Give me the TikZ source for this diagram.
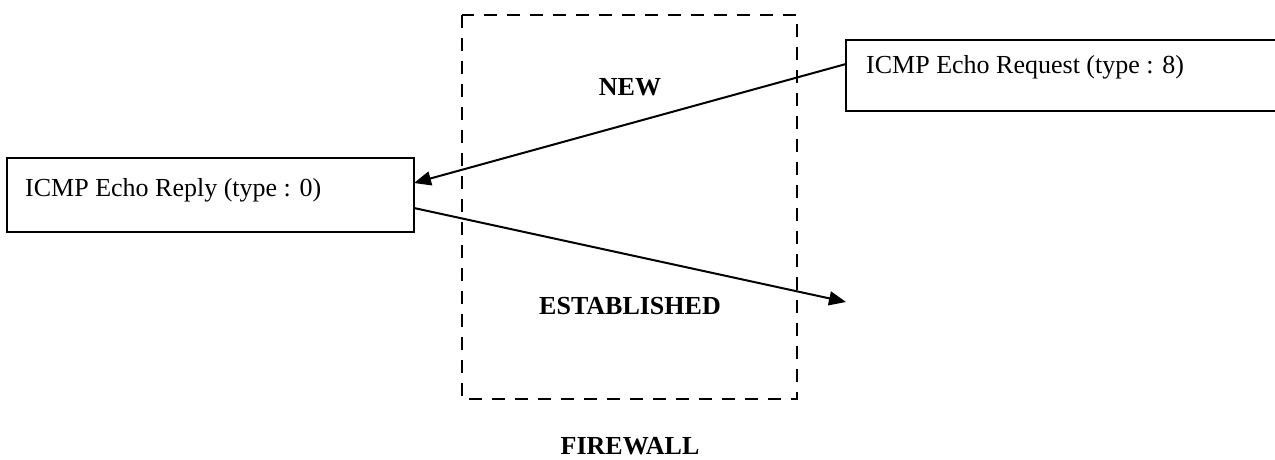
\documentclass[tikz,border=0pt]{standalone}
\usepackage{fontspec}
\setmainfont{Liberation Serif}
\usetikzlibrary{arrows.meta}
\begin{document}
\begin{tikzpicture}[x=1pt,y=-1pt,
  msgbox/.style={draw,line width=1.8pt,inner sep=0pt},
  msgtext/.style={anchor=base west,inner sep=0pt,font=\fontsize{26}{30}\selectfont},
  statelabel/.style={font=\fontsize{26}{30}\selectfont\bfseries},
  flow/.style={line width=2pt,-{Triangle[length=17pt,width=14pt]}},
  fwline/.style={line width=2pt,dash pattern=on 13pt off 10pt}]
\useasboundingbox (0,0) rectangle (1275,460);
% firewall boundary
\draw[fwline] (462,15) rectangle (797,399);
\node[statelabel] (new) at (630,87) {NEW};
\node[statelabel] (est) at (630,306) {ESTABLISHED};
\node[statelabel] (fw) at (630,446) {FIREWALL};
% message boxes
\draw[msgbox] (7,158) rectangle (414,232);
\coordinate (replyIn) at (414,183);
\coordinate (replyOut) at (414,208);
\node[msgtext] (reply) at (25,196) {ICMP Echo Reply (type : 0)};
\draw[msgbox] (1277,40) -- (846,40) -- (846,111) -- (1277,111);
\coordinate (reqOut) at (846,64);
\node[msgtext] (req) at (866,74) {ICMP Echo Request (type : 8)};
\coordinate (outEnd) at (846,302);
% packet flow
\draw[flow] (reqOut) -- (replyIn);
\draw[flow] (replyOut) -- (outEnd);
\end{tikzpicture}
\end{document}
